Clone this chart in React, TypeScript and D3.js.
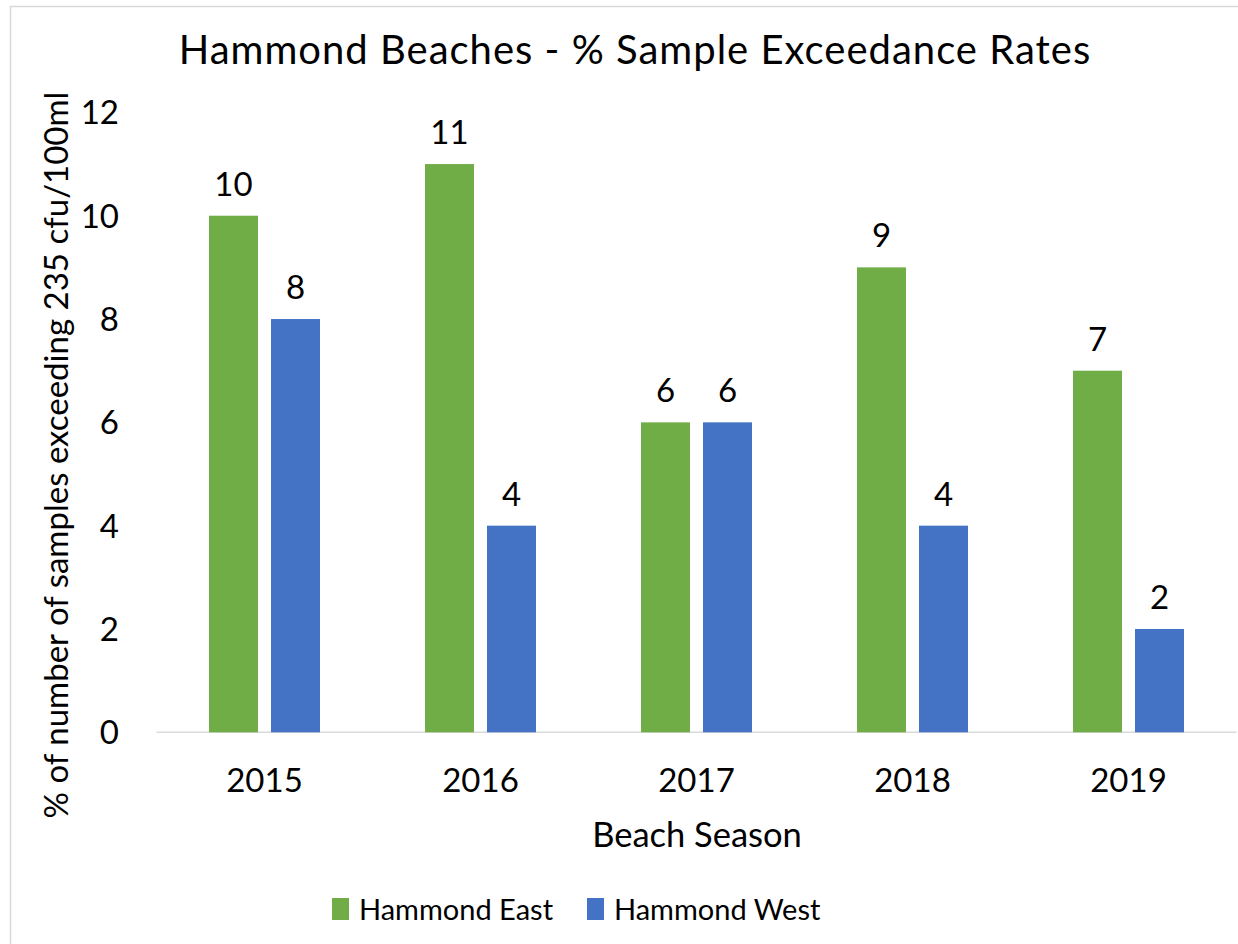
import * as d3 from 'd3';
import React, { useRef, useEffect } from 'react';

const seasons = ['2015', '2016', '2017', '2018', '2019']
const seriesNames = ['Hammond East', 'Hammond West']
const eastValues = [10, 11, 6, 9, 7]
const westValues = [8, 4, 6, 4, 2]
const yTicks = [0, 2, 4, 6, 8, 10, 12]
const colors = ['#70AD47', '#4472C4']

const W = 1238
const H = 944
const FONT = 'Lato, "Open Sans", sans-serif'

export default function App() {
    const ref = useRef(null)

    useEffect(() => {
        d3.select(ref.current).selectAll('*').remove()

        const svg = d3.select(ref.current)
            .attr('width', W)
            .attr('height', H)
            .style('font-family', FONT)

        svg.append('rect')
            .attr('x', 0).attr('y', 0).attr('width', W).attr('height', H)
            .attr('fill', '#fff')

        // chart frame
        svg.append('rect')
            .attr('x', 10.5).attr('y', 6.5)
            .attr('width', W + 20).attr('height', H + 20)
            .attr('fill', 'none')
            .attr('stroke', '#D9D9D9')
            .attr('stroke-width', 1.5)

        const plot = { left: 156.5, right: 1236.5, top: 112.4, bottom: 732.3 }

        const x = d3.scaleBand()
            .domain(seasons)
            .range([plot.left, plot.right])
            .paddingInner(0)
            .paddingOuter(0)

        const xInner = d3.scaleBand()
            .domain(seriesNames)
            .range([0, x.bandwidth()])
            .paddingInner(0.21)
            .paddingOuter(0.847)

        const y = d3.scaleLinear()
            .domain([0, 12])
            .range([plot.bottom, plot.top])

        // title
        svg.append('text')
            .attr('x', 635)
            .attr('y', 64)
            .attr('text-anchor', 'middle')
            .style('font-size', '40px')
            .style('letter-spacing', '1px')
            .attr('fill', '#000')
            .text('Hammond Beaches - % Sample Exceedance Rates')

        // y tick labels
        svg.append('g')
            .selectAll('text')
            .data(yTicks)
            .join('text')
            .attr('x', 119)
            .attr('y', d => y(d))
            .attr('dy', '0.36em')
            .attr('text-anchor', 'end')
            .style('font-size', '33px')
            .text(d => d)

        // baseline axis
        svg.append('line')
            .attr('x1', plot.left).attr('x2', plot.right)
            .attr('y1', y(0)).attr('y2', y(0))
            .attr('stroke', '#D9D9D9')
            .attr('stroke-width', 1.5)

        const rows = seasons.map((s, i) => ({ season: s, values: [eastValues[i], westValues[i]] }))

        const groups = svg.append('g')
            .selectAll('g')
            .data(rows)
            .join('g')
            .attr('transform', d => `translate(${x(d.season)},0)`)

        groups.selectAll('rect')
            .data(d => d.values.map((v, j) => ({ key: seriesNames[j], v, j })))
            .join('rect')
            .attr('x', d => xInner(d.key))
            .attr('width', xInner.bandwidth())
            .attr('y', d => y(d.v))
            .attr('height', d => y(0) - y(d.v))
            .attr('fill', d => colors[d.j])

        groups.selectAll('text')
            .data(d => d.values.map((v, j) => ({ key: seriesNames[j], v, j })))
            .join('text')
            .attr('x', d => xInner(d.key) + xInner.bandwidth() / 2)
            .attr('y', d => y(d.v) - 20)
            .attr('text-anchor', 'middle')
            .style('font-size', '33px')
            .text(d => d.v)

        // x tick labels
        svg.append('g')
            .selectAll('text')
            .data(seasons)
            .join('text')
            .attr('x', d => x(d) + x.bandwidth() / 2)
            .attr('y', 792)
            .attr('text-anchor', 'middle')
            .style('font-size', '33px')
            .text(d => d)

        // axis titles
        svg.append('text')
            .attr('x', 697)
            .attr('y', 847)
            .attr('text-anchor', 'middle')
            .style('font-size', '34.5px')
            .text('Beach Season')

        svg.append('text')
            .attr('transform', 'translate(68,455) rotate(-90)')
            .attr('text-anchor', 'middle')
            .style('font-size', '33px')
            .text('% of number of samples exceeding 235 cfu/100ml')

        // legend
        const legendItems = [
            { name: seriesNames[0], sx: 332, tx: 359 },
            { name: seriesNames[1], sx: 587, tx: 614 },
        ]
        const legend = svg.append('g')
        legendItems.forEach((d, i) => {
            legend.append('rect')
                .attr('x', d.sx).attr('y', 898)
                .attr('width', 17).attr('height', 22)
                .attr('fill', colors[i])
            legend.append('text')
                .attr('x', d.tx).attr('y', 920)
                .style('font-size', '29px')
                .text(d.name)
        })
    }, [])

    return <svg ref={ref} style={{ position: 'absolute', left: 0, top: 0 }} />
}
